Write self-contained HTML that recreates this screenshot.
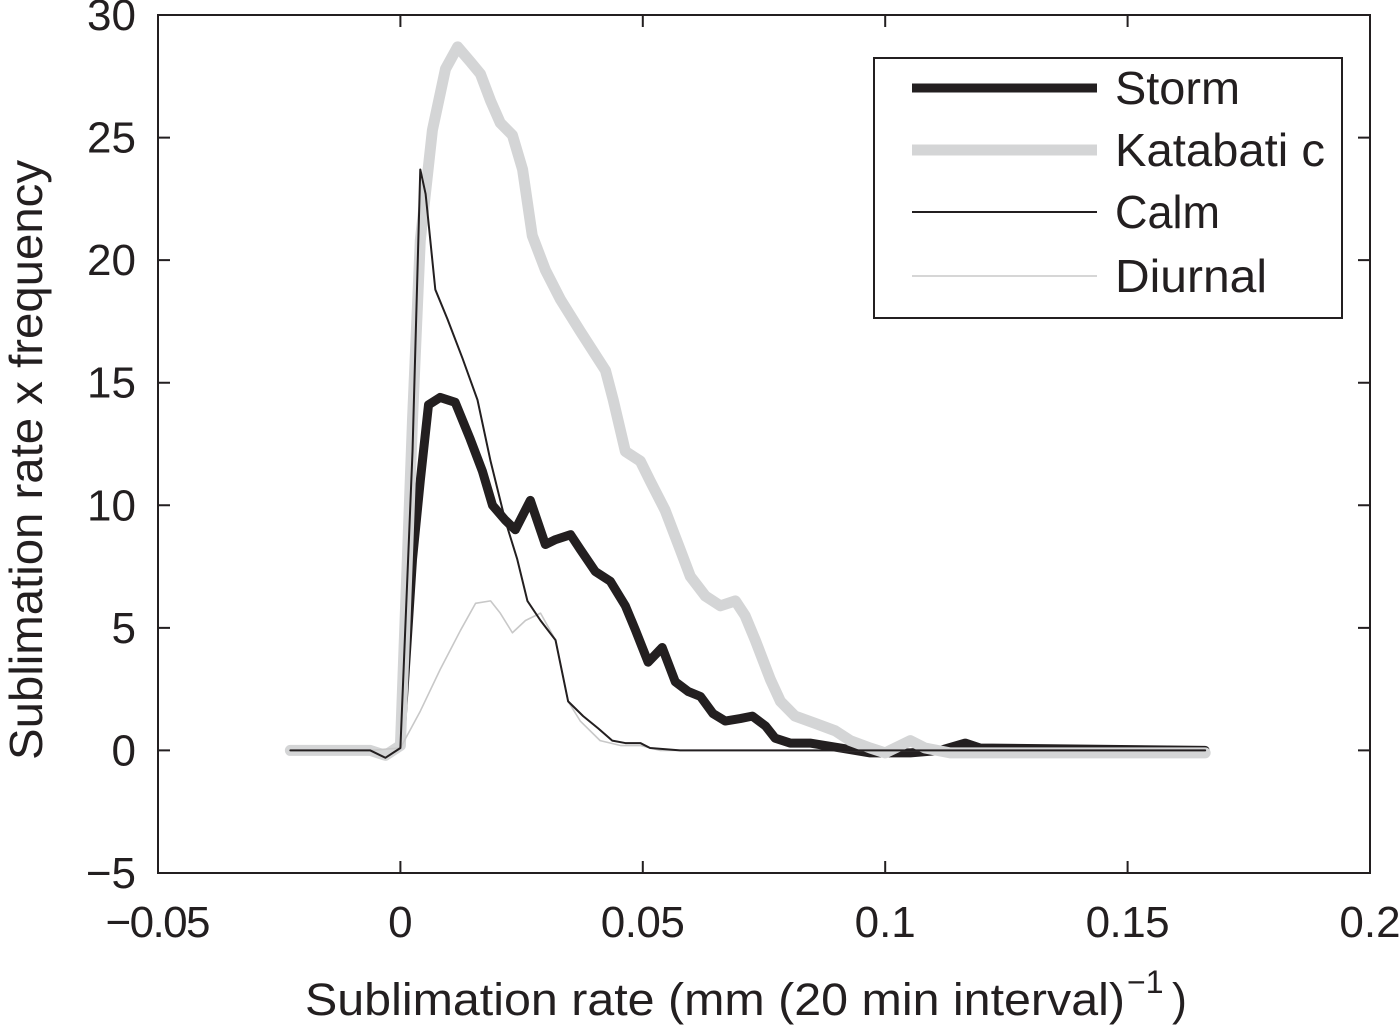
<!DOCTYPE html>
<html><head><meta charset="utf-8"><style>
body{margin:0;background:#fff}
svg text{font-family:"Liberation Sans",sans-serif;fill:#231f20}
</style></head><body>
<svg id="chart" width="1400" height="1025" xmlns="http://www.w3.org/2000/svg">
<g id="plot"></g>
</svg>
<script>
const xTicks=[-0.05,0,0.05,0.1,0.15,0.2];
const xTickLabels=["\u22120.05","0","0.05","0.1","0.15","0.2"];
const yTicks=[-5,0,5,10,15,20,25,30];
const yTickLabels=["\u22125","0","5","10","15","20","25","30"];
const seriesNames=["Storm","Katabati c","Calm","Diurnal"];
const katabatic=[[-0.0227,0],[-0.0062,0],[-0.0031,-0.2],[0,0.2],[0.0025,13.5],[0.0041,20.8],[0.0066,25.3],[0.0093,27.8],[0.0118,28.7],[0.0144,28.1],[0.0165,27.6],[0.0186,26.5],[0.0206,25.6],[0.0231,25.1],[0.0252,23.7],[0.0272,21.0],[0.0299,19.6],[0.033,18.4],[0.0371,17.1],[0.0423,15.5],[0.0439,14.3],[0.0464,12.2],[0.0495,11.8],[0.0515,11.0],[0.0546,9.8],[0.0577,8.2],[0.0598,7.1],[0.0629,6.3],[0.066,5.9],[0.0691,6.1],[0.0711,5.5],[0.0732,4.5],[0.0763,2.9],[0.0784,2.0],[0.0814,1.4],[0.0856,1.1],[0.0897,0.8],[0.0928,0.4],[0.0969,0.1],[0.1,-0.1],[0.1031,0.2],[0.1052,0.4],[0.1082,0.1],[0.1134,-0.1],[0.1237,-0.1],[0.166,-0.1]];
const storm=[[-0.0227,0],[-0.0062,0],[-0.0031,-0.2],[0,0.2],[0.0025,7.8],[0.0041,11.0],[0.0058,14.1],[0.0082,14.4],[0.0113,14.2],[0.0144,12.7],[0.0169,11.4],[0.019,10.0],[0.0216,9.4],[0.0237,9.0],[0.0268,10.2],[0.0299,8.4],[0.032,8.6],[0.0351,8.8],[0.0371,8.2],[0.0402,7.3],[0.0433,6.9],[0.0464,5.9],[0.0485,4.9],[0.0511,3.6],[0.054,4.2],[0.0567,2.8],[0.0594,2.4],[0.0619,2.2],[0.0645,1.5],[0.067,1.2],[0.0701,1.3],[0.0726,1.4],[0.0753,1.0],[0.0773,0.5],[0.0804,0.3],[0.0845,0.3],[0.0907,0.1],[0.0969,-0.1],[0.1052,-0.1],[0.1113,0],[0.1165,0.3],[0.1196,0.1],[0.166,0]];
const calm=[[-0.0227,0],[-0.0062,0],[-0.0031,-0.3],[0,0.1],[0.0025,12.2],[0.0041,23.7],[0.0052,22.7],[0.0072,18.8],[0.0097,17.6],[0.0128,16.0],[0.0159,14.3],[0.0186,11.8],[0.0216,9.4],[0.0241,7.8],[0.0262,6.1],[0.0289,5.3],[0.032,4.5],[0.0346,2.0],[0.0377,1.4],[0.0408,0.9],[0.0437,0.4],[0.0464,0.3],[0.0495,0.3],[0.0515,0.1],[0.0577,0],[0.166,0]];
const diurnal=[[-0.0227,0],[-0.0062,0],[0,0.1],[0.0041,1.6],[0.0082,3.3],[0.0124,4.9],[0.0155,6.0],[0.0186,6.1],[0.0206,5.6],[0.0231,4.8],[0.0258,5.3],[0.0289,5.6],[0.032,4.5],[0.0346,2.0],[0.0371,1.2],[0.0412,0.4],[0.0454,0.2],[0.0495,0.2],[0.0536,0],[0.166,0]];

const X0=158,X1=1370,Y0=873,Y1=15;
const xs=v=>X0+(v-(-0.05))/(0.25)*(X1-X0);
const ys=v=>Y0-(v-(-5))/35*(Y0-Y1);
const NS="http://www.w3.org/2000/svg";
const g=document.getElementById('plot');
function mk(tag,attrs,parent){const e=document.createElementNS(NS,tag);for(const k in attrs)e.setAttribute(k,attrs[k]);(parent||g).appendChild(e);return e;}

const frame=mk('rect',{x:X0,y:Y1,width:X1-X0,height:Y0-Y1,fill:'none',stroke:'#231f20','stroke-width':2});



xTicks.forEach((t,i)=>{
  const x=xs(t);
  const tk=mk('path',{d:`M${x},${Y0}v-12M${x},${Y1}v12`,stroke:'#231f20','stroke-width':2});
  
  
  const tx=mk('text',{x:x,y:937,'text-anchor':'middle','font-size':44,textLength:(xTickLabels[i].length>3?xTickLabels[i].length*21:null)});
  if(!tx.getAttribute('textLength')||tx.getAttribute('textLength')==='null')tx.removeAttribute('textLength');
  tx.textContent=xTickLabels[i];
  
  
});
yTicks.forEach((t,i)=>{
  const y=ys(t);
  const tk=mk('path',{d:`M${X0},${y}h12M${X1},${y}h-12`,stroke:'#231f20','stroke-width':2});
  
  
  const tx=mk('text',{x:136,y:y+15,'text-anchor':'end','font-size':44});
  tx.textContent=yTickLabels[i];
  
  
});

function line(data,color,w,name){
  const p=mk('polyline',{points:data.map(d=>xs(d[0])+','+ys(d[1])).join(' '),fill:'none',stroke:color,'stroke-width':w,'stroke-linejoin':'round','stroke-linecap':'round'});
  
  
}
line(storm,'#231f20',9,'storm-line');
line(katabatic,'#d4d5d6',11,'katabatic-line');
line(diurnal,'#c8c8c8',1.6,'diurnal-line');
line(calm,'#231f20',2,'calm-line');

const lg=mk('g',{});


mk('rect',{x:874,y:58,width:468,height:260,fill:'#fff',stroke:'#231f20','stroke-width':2},lg);
const lStyles=[['#231f20',9],['#d4d5d6',11],['#231f20',2],['#c8c8c8',1.6]];
const lY=[88,150,212,276];
const lW=[125,210,105,152];
seriesNames.forEach((n,i)=>{
  const l=mk('line',{x1:912,x2:1097,y1:lY[i],y2:lY[i],stroke:lStyles[i][0],'stroke-width':lStyles[i][1]},lg);
  
  
  const t=mk('text',{x:1115,y:lY[i]+16,'font-size':46,textLength:lW[i],lengthAdjust:'spacingAndGlyphs'},lg);
  t.textContent=n;
  
  
});

const xt=mk('text',{x:305,y:1015,'font-size':45,textLength:820,lengthAdjust:'spacingAndGlyphs'});
xt.textContent='Sublimation rate (mm (20 min interval)';


const xs2=mk('text',{x:1127,y:993,'font-size':32});
xs2.textContent='\u22121';


const xs3=mk('text',{x:1172,y:1015,'font-size':45});
xs3.textContent=')';


const yt=mk('text',{x:0,y:0,'text-anchor':'middle','font-size':46,textLength:600,lengthAdjust:'spacingAndGlyphs',transform:'translate(42,460) rotate(-90)'});
yt.textContent='Sublimation rate x frequency';


</script>
</body></html>
